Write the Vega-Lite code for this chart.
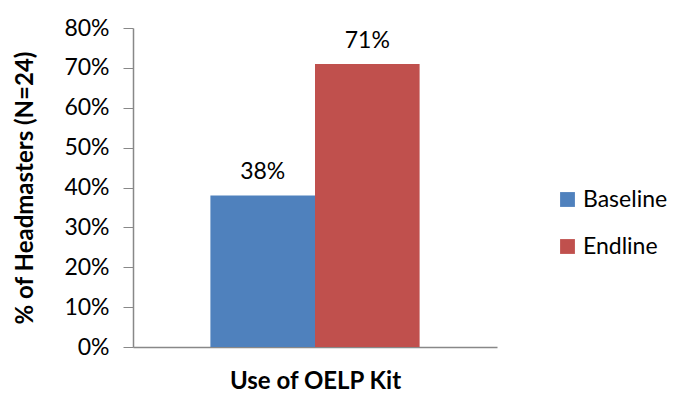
{
  "$schema": "https://vega.github.io/schema/vega-lite/v6.json",
  "width": 364,
  "height": 319,
  "autosize": {"type": "none"},
  "padding": {"left": 133, "top": 28, "right": 177, "bottom": 49},
  "background": "white",
  "config": {"view": {"stroke": null}, "font": "Lato"},
  "data": {"values": [
    {"Category": "Use of OELP Kit", "Series": "Baseline", "Value": 0.38},
    {"Category": "Use of OELP Kit", "Series": "Endline", "Value": 0.71}
  ]},
  "encoding": {
    "x": {
      "field": "Series", "type": "nominal",
      "scale": {"domain": ["Baseline", "Endline"], "paddingInner": 0, "paddingOuter": 0.74},
      "axis": {"title": "Use of OELP Kit", "labels": false, "ticks": false, "domainColor": "#888888", "domainWidth": 1.5, "titleFont": "Lato", "titleFontSize": 24, "titleFontWeight": "bold", "titleColor": "black", "titlePadding": 22}
    },
    "y": {
      "field": "Value", "type": "quantitative",
      "scale": {"domain": [0, 0.8]},
      "axis": {"title": "% of Headmasters (N=24)", "format": ".0%", "values": [0, 0.1, 0.2, 0.3, 0.4, 0.5, 0.6, 0.7, 0.8], "grid": false, "domainColor": "#888888", "domainWidth": 1.5, "tickColor": "#888888", "tickSize": 10, "labelPadding": 14, "labelFontSize": 23, "labelColor": "black", "labelFont": "Lato", "titleFont": "Lato", "titleFontSize": 24, "titleFontWeight": "bold", "titleColor": "black", "titlePadding": 26}
    }
  },
  "layer": [
    {
      "mark": {"type": "bar"},
      "encoding": {
        "color": {
          "field": "Series", "type": "nominal",
          "scale": {"domain": ["Baseline", "Endline"], "range": ["#4F81BD", "#C0504D"]},
          "legend": {"title": null, "orient": "none", "legendX": 423, "legendY": 160, "symbolType": "square", "symbolSize": 220, "symbolStrokeWidth": 0, "labelFontSize": 23, "labelFont": "Lato", "labelColor": "black", "rowPadding": 23, "labelOffset": 4}
        }
      }
    },
    {
      "mark": {"type": "text", "baseline": "bottom", "dy": -11, "fontSize": 23, "font": "Lato", "color": "black"},
      "encoding": {"text": {"field": "Value", "type": "quantitative", "format": ".0%"}}
    }
  ]
}
